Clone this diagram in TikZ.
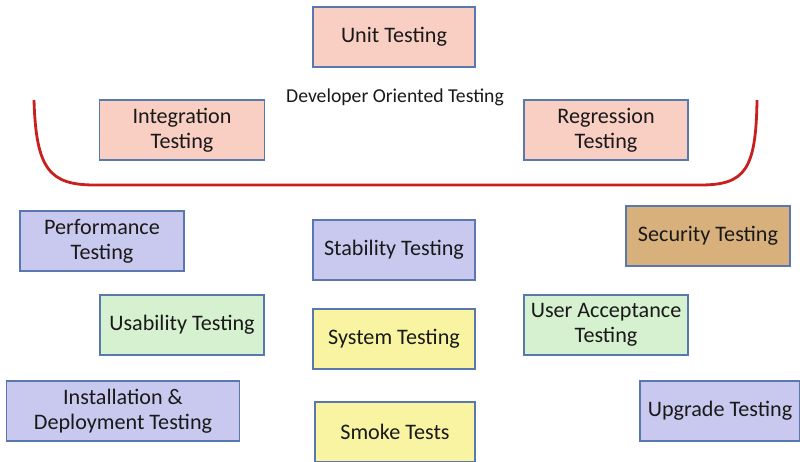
\documentclass[tikz,border=0pt]{standalone}
\usepackage{fontspec}
\setmainfont{Carlito}
\usetikzlibrary{shadows}
\usepackage{xcolor}

\definecolor{boxline}{HTML}{5A78B0}
\definecolor{pinkfill}{HTML}{F9CEC3}
\definecolor{bluefill}{HTML}{C9C9F0}
\definecolor{greenfill}{HTML}{D6F1D0}
\definecolor{yellowfill}{HTML}{F9F4A2}
\definecolor{brownfill}{HTML}{D8B07C}
\definecolor{bracketred}{HTML}{C8201E}

\tikzset{
  testbox/.style={draw=boxline, line width=0.8pt, minimum height=1.2cm, align=center,
    font=\fontsize{12.6}{14.4}\selectfont, text=black!90,
    drop shadow={shadow xshift=0.5pt, shadow yshift=-0.8pt, opacity=0.35}},
  dev/.style={testbox, fill=pinkfill},
  sys/.style={testbox, fill=bluefill},
  use/.style={testbox, fill=greenfill},
  core/.style={testbox, fill=yellowfill},
  sec/.style={testbox, fill=brownfill}
}

\begin{document}
\begin{tikzpicture}[x=0.02cm, y=-0.02cm]
  \useasboundingbox (0,0) rectangle (800,461);

  % DEVELOPER ORIENTED GROUP
  \node[dev, minimum width=3.24cm] (unit) at (394,37) {Unit Testing};
  \node[dev, minimum width=3.3cm]  (integ) at (182,130) {Integration\\Testing};
  \node[dev, minimum width=3.28cm] (regr) at (606,130) {Regression\\Testing};
  \node[font=\fontsize{11.2}{13}\selectfont, text=black!90] (devlbl) at (395,97) {Developer Oriented Testing};

  % RED BRACKET
  \draw[bracketred, line width=1.6pt] (34,100) .. controls (36,170) and (50,185) .. (95,185)
    -- (700,185) .. controls (745,185) and (756,170) .. (757,100);

  % OTHER TESTING TYPES
  \node[sys, minimum width=3.28cm] (perf) at (102,241) {Performance\\Testing};
  \node[sys, minimum width=3.24cm] (stab) at (394,250) {Stability Testing};
  \node[sec, minimum width=3.28cm] (secu) at (708,236) {Security Testing};

  \node[use, minimum width=3.28cm] (usab) at (182,325) {Usability Testing};
  \node[core, minimum width=3.24cm] (syst) at (394,339) {System Testing};
  \node[use, minimum width=3.28cm] (uat) at (606,325) {User Acceptance\\Testing};

  \node[sys, minimum width=4.66cm] (inst) at (123,411) {Installation \&\\Deployment Testing};
  \node[core, minimum width=3.2cm] (smoke) at (395,432) {Smoke Tests};
  \node[sys, minimum width=3.2cm]  (upgr) at (720,411) {Upgrade Testing};
\end{tikzpicture}
\end{document}
